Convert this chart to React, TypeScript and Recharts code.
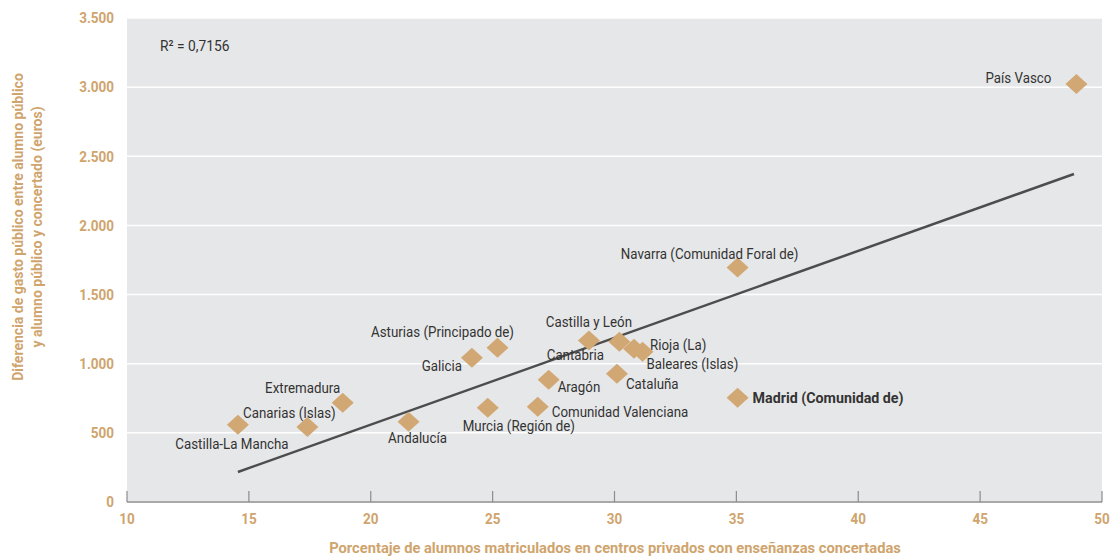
import { ScatterChart, Scatter, XAxis, YAxis, CartesianGrid, ReferenceLine } from 'recharts'

// data
const regions = [
  'Castilla-La Mancha',
  'Canarias (Islas)',
  'Extremadura',
  'Andalucía',
  'Galicia',
  'Asturias (Principado de)',
  'Murcia (Región de)',
  'Comunidad Valenciana',
  'Aragón',
  'Castilla y León',
  'Cantabria',
  'Cataluña',
  'Rioja (La)',
  'Baleares (Islas)',
  'Madrid (Comunidad de)',
  'Navarra (Comunidad Foral de)',
  'País Vasco',
]
const privateShare = [14.55, 17.4, 18.85, 21.55, 24.15, 25.2, 24.8, 26.85, 27.3, 28.95, 30.2, 30.1, 30.8, 31.15, 35.05, 35.05, 48.95]
const spendingGap = [558, 543, 717, 580, 1043, 1116, 681, 688, 884, 1167, 1159, 928, 1109, 1087, 754, 1696, 3022]

const xTicks = [10, 15, 20, 25, 30, 35, 40, 45, 50]
const yTicks = [0, 500, 1000, 1500, 2000, 2500, 3000, 3500]

const trendX = [14.55, 48.85]
const trendY = [217, 2372]
const rSquared = 'R² = 0,7156'

const xTitle = 'Porcentaje de alumnos matriculados en centros privados con enseñanzas concertadas'
const yTitle = ['Diferencia de gasto público entre alumno público', 'y alumno público y concertado (euros)']

// where each label sits relative to its diamond
const labelLayout: Record<string, { dx: number; dy: number; anchor: 'start' | 'middle' | 'end'; bold?: boolean }> = {
  'Castilla-La Mancha': { dx: -6, dy: 19, anchor: 'middle' },
  'Canarias (Islas)': { dx: -18, dy: -14, anchor: 'middle' },
  Extremadura: { dx: -40, dy: -15, anchor: 'middle' },
  'Andalucía': { dx: 9, dy: 16, anchor: 'middle' },
  Galicia: { dx: -10, dy: 8, anchor: 'end' },
  'Asturias (Principado de)': { dx: -55, dy: -15, anchor: 'middle' },
  'Murcia (Región de)': { dx: -25, dy: 18, anchor: 'start' },
  'Comunidad Valenciana': { dx: 14, dy: 5, anchor: 'start' },
  'Aragón': { dx: 9, dy: 7, anchor: 'start' },
  'Castilla y León': { dx: 0, dy: -18, anchor: 'middle' },
  Cantabria: { dx: -44, dy: 13, anchor: 'middle' },
  'Cataluña': { dx: 9, dy: 11, anchor: 'start' },
  'Rioja (La)': { dx: 16, dy: -3, anchor: 'start' },
  'Baleares (Islas)': { dx: 4, dy: 12, anchor: 'start' },
  'Madrid (Comunidad de)': { dx: 15, dy: 0, anchor: 'start', bold: true },
  'Navarra (Comunidad Foral de)': { dx: -28, dy: -13, anchor: 'middle' },
  'País Vasco': { dx: -25, dy: -6, anchor: 'end' },
}

const points = regions.map((name, i) => ({ name, x: privateShare[i], y: spendingGap[i] }))

const FONT = 'Roboto, "Liberation Sans", sans-serif'
const TAN = '#cfa46d'
const DIAMOND = '#d1a774'
const TEXT = '#333333'

const fmt = (v: number) => v.toString().replace(/\B(?=(\d{3})+(?!\d))/g, '.')

// narrow text: the source uses a condensed face, so squeeze horizontally
function NText(props: any) {
  const { x, y, sx = 0.86, rotate = 0, children, ...rest } = props
  return (
    <g transform={`translate(${x},${y}) rotate(${rotate}) scale(${sx},1)`}>
      <text x={0} y={0} dominantBaseline="central" fontFamily={FONT} {...rest}>
        {children}
      </text>
    </g>
  )
}

function Diamond(props: any) {
  const { cx, cy, payload } = props
  const l = labelLayout[payload.name]
  return (
    <g>
      <polygon
        points={`${cx},${cy - 10} ${cx + 11},${cy} ${cx},${cy + 10} ${cx - 11},${cy}`}
        fill={DIAMOND}
      />
      <NText
        x={cx + l.dx}
        y={cy + l.dy}
        sx={l.bold ? 0.92 : 0.86}
        textAnchor={l.anchor}
        fontSize={15.5}
        fontWeight={l.bold ? 700 : 400}
        fill={TEXT}
      >
        {payload.name}
      </NText>
    </g>
  )
}

function XTick(props: any) {
  const { x, y, payload } = props
  return (
    <g>
      <line x1={x} x2={x} y1={y} y2={y - 11} stroke="#8c8c8c" strokeWidth={1.2} />
      <NText x={x} y={y + 17} sx={0.9} textAnchor="middle" fontSize={15} fontWeight={700} fill={TAN}>
        {payload.value}
      </NText>
    </g>
  )
}

function YTick(props: any) {
  const { x, y, payload } = props
  return (
    <NText x={x} y={y} sx={0.9} textAnchor="end" fontSize={15} fontWeight={700} fill={TAN}>
      {fmt(payload.value)}
    </NText>
  )
}

export default function App() {
  return (
    <div style={{ position: 'absolute', left: 0, top: 0, width: 1112, height: 558 }}>
      <ScatterChart width={1112} height={558} margin={{ top: 18, right: 10, left: 0, bottom: 0 }}>
        <CartesianGrid fill="#e6e7e8" stroke="#ffffff" strokeWidth={1.5} vertical={false} />
        <XAxis
          type="number"
          dataKey="x"
          domain={[10, 50]}
          ticks={xTicks}
          height={56}
          tickSize={0}
          tickMargin={0}
          tickLine={false}
          axisLine={{ stroke: '#8c8c8c', strokeWidth: 1.5 }}
          tick={<XTick />}
          label={{
            content: () => (
              <NText x={615} y={548} sx={0.98} textAnchor="middle" fontSize={15} fontWeight={700} fill={TAN}>
                {xTitle}
              </NText>
            ),
          }}
        />
        <YAxis
          type="number"
          dataKey="y"
          domain={[0, 3500]}
          ticks={yTicks}
          width={127}
          tickSize={0}
          tickMargin={13}
          tickLine={false}
          axisLine={false}
          tick={<YTick />}
          label={{
            content: () => (
              <g>
                <NText x={18} y={227} rotate={-90} sx={1} textAnchor="middle" fontSize={14} fontWeight={700} fill={TAN}>
                  {yTitle[0]}
                </NText>
                <NText x={37} y={227} rotate={-90} sx={1} textAnchor="middle" fontSize={14} fontWeight={700} fill={TAN}>
                  {yTitle[1]}
                </NText>
                <NText x={160} y={46} sx={0.92} fontSize={15} fill={TEXT}>
                  {rSquared}
                </NText>
              </g>
            ),
          }}
        />
        <ReferenceLine
          segment={[
            { x: trendX[0], y: trendY[0] },
            { x: trendX[1], y: trendY[1] },
          ]}
          stroke="#4d4d4d"
          strokeWidth={2.5}
        />
        <Scatter data={points} shape={<Diamond />} isAnimationActive={false} />
      </ScatterChart>
    </div>
  )
}
